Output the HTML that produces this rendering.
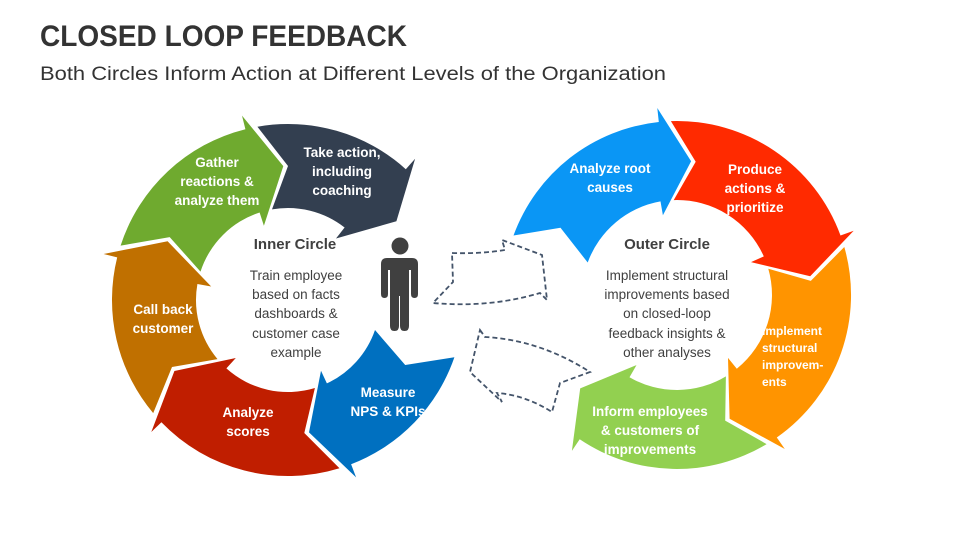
<!DOCTYPE html>
<html><head><meta charset="utf-8">
<style>
html,body{margin:0;padding:0;background:#fff;}
body{width:960px;height:540px;overflow:hidden;font-family:"Liberation Sans",sans-serif;}
svg text{font-family:"Liberation Sans",sans-serif;}
</style></head>
<body>
<svg id="s" width="960" height="540" viewBox="0 0 960 540" xmlns="http://www.w3.org/2000/svg">
<text x="40" y="46" font-size="30" font-weight="bold" fill="#333" textLength="367" lengthAdjust="spacingAndGlyphs">CLOSED LOOP FEEDBACK</text>
<text x="40" y="80" font-size="19" fill="#333" textLength="626" lengthAdjust="spacingAndGlyphs">Both Circles Inform Action at Different Levels of the Organization</text>
<g id="arrows"></g>
<path d="M452,253 Q480,254 505,250 L502,240 L542,255 L547,300 L540,293 Q490,308 433,303 L453,282 Z" fill="#fff" stroke="#44546a" stroke-width="1.8" stroke-dasharray="5,3"/>
<path d="M480,330 L485,337 Q540,340 590,372 L560,383 L552,412 Q525,395 497,393 L502,402 L470,372 Z" fill="#fff" stroke="#44546a" stroke-width="1.8" stroke-dasharray="5,3"/>
<g fill="#404040">
<circle cx="400" cy="246" r="8.5"/>
<path d="M388,258 h24 q6,0 6,6 v30 q0,4 -3.5,4 q-3.5,0 -3.5,-4 v-24 h-2 v56 q0,5 -4.5,5 q-4.5,0 -4.5,-5 v-30 h-1 v30 q0,5 -4.5,5 q-4.5,0 -4.5,-5 v-56 h-2 v24 q0,4 -3.5,4 q-3.5,0 -3.5,-4 v-30 q0,-6 6,-6 z"/>
</g>
<g font-weight="bold" fill="#fff" font-size="13.5" text-anchor="middle">
<text x="217" y="167">Gather</text><text x="217" y="186">reactions &amp;</text><text x="217" y="205">analyze them</text>
<text x="342" y="157">Take action,</text><text x="342" y="176">including</text><text x="342" y="195">coaching</text>
<text x="163" y="314">Call back</text><text x="163" y="333">customer</text>
<text x="248" y="417">Analyze</text><text x="248" y="436">scores</text>
<text x="388" y="397">Measure</text><text x="388" y="416">NPS &amp; KPIs</text>
<text x="610" y="173">Analyze root</text><text x="610" y="192">causes</text>
<text x="755" y="174">Produce</text><text x="755" y="193">actions &amp;</text><text x="755" y="212">prioritize</text>
<text x="650" y="416">Inform employees</text><text x="650" y="435">&amp; customers of</text><text x="650" y="454">improvements</text>
</g>
<g font-weight="bold" fill="#fff" font-size="12">
<text x="762" y="335">Implement</text><text x="762" y="352">structural</text><text x="762" y="369">improvem-</text><text x="762" y="386">ents</text>
</g>
<g fill="#404040" text-anchor="middle">
<text x="295" y="249" font-size="15" font-weight="bold">Inner Circle</text>
<g font-size="13.5"><text x="296" y="280">Train employee</text><text x="296" y="299">based on facts</text><text x="296" y="318">dashboards &amp;</text><text x="296" y="338">customer case</text><text x="296" y="357">example</text></g>
<text x="667" y="249" font-size="15" font-weight="bold">Outer Circle</text>
<g font-size="13.5"><text x="667" y="280">Implement structural</text><text x="667" y="299">improvements based</text><text x="667" y="318">on closed-loop</text><text x="667" y="338">feedback insights &amp;</text><text x="667" y="357">other analyses</text></g>
</g>
</svg>
<script>
(function(){
var NS="http://www.w3.org/2000/svg";
function P(cx,cy,r,a){a=a*Math.PI/180;return (cx+r*Math.cos(a)).toFixed(1)+","+(cy+r*Math.sin(a)).toFixed(1);}
function seg(cx,cy,r1,r2,a0,a1,col){
 var notch=10,hl=12,ext=14,rm=(r1+r2)/2,ah=a1-hl;
 var d="M"+P(cx,cy,r2,a0)+" A"+r2+","+r2+" 0 0 1 "+P(cx,cy,r2,ah)+
 " L"+P(cx,cy,r2+ext,ah)+" L"+P(cx,cy,rm,a1)+" L"+P(cx,cy,r1-ext,ah-4)+
 " L"+P(cx,cy,r1,ah-4)+" A"+r1+","+r1+" 0 0 0 "+P(cx,cy,r1,a0)+
 " L"+P(cx,cy,rm,a0+notch)+" Z";
 var p=document.createElementNS(NS,"path");p.setAttribute("d",d);p.setAttribute("fill",col);
 document.getElementById("arrows").appendChild(p);
}
var L=[288,300,92,176];
seg(L[0],L[1],L[2],L[3],140,206,"#c07000");
seg(L[0],L[1],L[2],L[3],198,268,"#6faa2f");
seg(L[0],L[1],L[2],L[3],260,324,"#333f50");
seg(L[0],L[1],L[2],L[3],19,81,"#0070c0");
seg(L[0],L[1],L[2],L[3],73,148,"#c01e00");
var R=[677,295,95,174];
seg(R[0],R[1],R[2],R[3],200,276,"#0a96f5");
seg(R[0],R[1],R[2],R[3],268,352,"#ff2a00");
seg(R[0],R[1],R[2],R[3],344,427,"#ff9400");
seg(R[0],R[1],R[2],R[3],419,496,"#92d050");
})();
</script>
</body></html>
